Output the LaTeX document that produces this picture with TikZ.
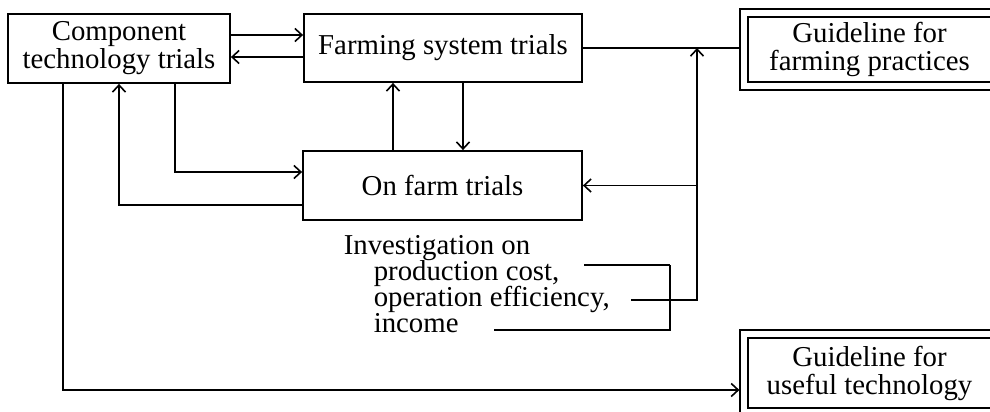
\documentclass[tikz,border=0pt]{standalone}
\usepackage{fontspec}
\setmainfont{Liberation Serif}
\usetikzlibrary{arrows.meta}

\begin{document}
\begin{tikzpicture}[x=0.5pt, y=-0.5pt, line width=0.8pt,
    box/.style={draw, line width=0.9pt, inner sep=0pt, align=center, font=\fontsize{14.4}{14}\selectfont},
    guide/.style={box, double, double distance=3.2pt, line width=0.7pt, outer sep=2.3pt},
    lbl/.style={inner sep=0pt, anchor=base west, font=\fontsize{14.4}{14}\selectfont},
    arr/.style={-{Straight Barb[length=3.5pt, width=6.5pt]}}]
    \useasboundingbox (0,0) rectangle (990,412);
    \node[box, minimum width=111pt, minimum height=34.5pt] (comp) at (119,48.5) {Component\\technology trials};
    \node[box, minimum width=139pt, minimum height=34pt] (farm) at (443,48) {Farming system trials};
    \node[box, minimum width=139.5pt, minimum height=34.5pt] (onfarm) at (442.5,185.5) {On farm trials};
    \node[guide, minimum width=125.5pt, minimum height=36.5pt] (gfarm) at (869.5,49.5) {Guideline for\\farming practices};
    \node[guide, minimum width=125.5pt, minimum height=39pt] (gtech) at (869.5,373) {Guideline for\\useful technology};
    \node[lbl] (inv) at (343,254) {Investigation on};
    \node[lbl] (cost) at (373,280) {production cost,};
    \node[lbl] (eff) at (373,306) {operation efficiency,};
    \node[lbl] (inc) at (373,332) {income};
    \coordinate (join) at (697,48);
    \coordinate (brk) at (670,265);
    % between the trials
    \draw[arr] ([yshift=6.75pt]comp.east) -- ([yshift=6.75pt]comp.east -| farm.west);
    \draw[arr] ([yshift=-4.25pt]comp.east -| farm.west) -- ([yshift=-4.25pt]comp.east);
    \draw[arr] ([xshift=-24.75pt]onfarm.north) -- ([xshift=-24.75pt]onfarm.north |- farm.south);
    \draw[arr] ([xshift=10pt]farm.south) -- ([xshift=10pt]farm.south |- onfarm.north);
    \draw[arr] ([xshift=28pt]comp.south) |- ([yshift=6.75pt]onfarm.west);
    \draw[arr] ([yshift=-9.75pt]onfarm.west) -| (comp.south);
    \draw[arr] ([xshift=-28pt]comp.south) |- ([yshift=-8.5pt]gtech.west);
    % to the guidelines
    \draw (farm.east) -- (farm.east -| gfarm.west);
    \draw ([xshift=12pt,yshift=7.5pt]cost.base east) -- (brk);
    \draw ([xshift=17.5pt,yshift=1pt]inc.base east) -| (brk);
    \draw[arr] ([xshift=10.5pt,yshift=3pt]eff.base east) -| (join);
    \draw[arr] (onfarm.east -| join) -- (onfarm.east);
\end{tikzpicture}
\end{document}
